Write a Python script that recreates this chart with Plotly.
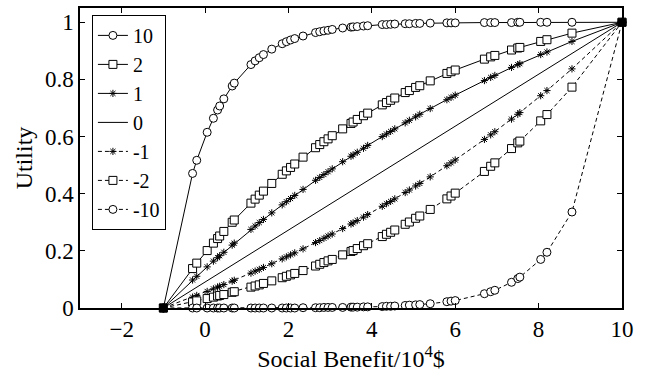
import plotly.graph_objects as go

# Social benefit sample points (10^4 $)
benefit = [
    -1, -0.3, -0.2, 0.05, 0.2, 0.3, 0.35, 0.45, 0.65, 0.7,
    1.1, 1.2, 1.3, 1.4, 1.6, 1.85, 1.95, 2.05, 2.15, 2.35,
    2.65, 2.75, 2.85, 2.95, 3.05, 3.3, 3.5, 3.55, 3.65, 3.8,
    3.9, 4.25, 4.35, 4.45, 4.55, 4.8, 4.9, 5.05, 5.15, 5.4,
    5.8, 5.9, 6.0, 6.7, 6.85, 6.95, 7.35, 7.5, 7.55, 8.05,
    8.2, 8.8, 10,
]

u_p10 = [
    0, 0.471, 0.517, 0.615, 0.664, 0.693, 0.707, 0.732, 0.777, 0.787,
    0.852, 0.865, 0.876, 0.887, 0.906, 0.925, 0.932, 0.938, 0.943, 0.952,
    0.964, 0.967, 0.970, 0.972, 0.975, 0.980, 0.983, 0.984, 0.985, 0.987,
    0.988, 0.992, 0.992, 0.993, 0.994, 0.995, 0.995, 0.996, 0.996, 0.997,
    0.998, 0.998, 0.998, 0.999, 0.999, 0.999, 0.999, 1.0, 1.0, 1.0,
    1.0, 1.0, 1.0,
]
u_p2 = [
    0, 0.138, 0.157, 0.201, 0.227, 0.243, 0.252, 0.268, 0.300, 0.308,
    0.367, 0.381, 0.395, 0.409, 0.436, 0.468, 0.480, 0.492, 0.504, 0.528,
    0.561, 0.572, 0.582, 0.592, 0.603, 0.627, 0.646, 0.651, 0.660, 0.673,
    0.682, 0.711, 0.719, 0.727, 0.735, 0.754, 0.761, 0.772, 0.778, 0.795,
    0.821, 0.827, 0.833, 0.871, 0.879, 0.884, 0.903, 0.910, 0.912, 0.933,
    0.939, 0.962, 1.0,
]
u_p1 = [
    0, 0.098, 0.111, 0.144, 0.164, 0.176, 0.183, 0.195, 0.220, 0.227,
    0.275, 0.287, 0.299, 0.310, 0.333, 0.361, 0.372, 0.383, 0.394, 0.415,
    0.447, 0.457, 0.467, 0.477, 0.487, 0.512, 0.531, 0.536, 0.545, 0.559,
    0.569, 0.600, 0.609, 0.618, 0.627, 0.648, 0.657, 0.669, 0.678, 0.698,
    0.729, 0.737, 0.745, 0.796, 0.807, 0.814, 0.842, 0.852, 0.855, 0.887,
    0.896, 0.933, 1.0,
]
benefit_0 = [-1, 10]
u_0 = [0, 1]
u_m1 = [
    0, 0.038, 0.044, 0.058, 0.067, 0.073, 0.076, 0.082, 0.094, 0.097,
    0.122, 0.129, 0.135, 0.142, 0.155, 0.172, 0.179, 0.186, 0.193, 0.207,
    0.229, 0.236, 0.244, 0.252, 0.259, 0.278, 0.294, 0.298, 0.306, 0.318,
    0.327, 0.356, 0.365, 0.373, 0.382, 0.404, 0.413, 0.427, 0.436, 0.459,
    0.498, 0.508, 0.518, 0.590, 0.606, 0.617, 0.661, 0.678, 0.684, 0.743,
    0.761, 0.837, 1.0,
]
u_m2 = [
    0, 0.021, 0.025, 0.033, 0.038, 0.042, 0.044, 0.047, 0.055, 0.057,
    0.073, 0.077, 0.081, 0.086, 0.095, 0.106, 0.111, 0.116, 0.121, 0.131,
    0.147, 0.153, 0.159, 0.165, 0.170, 0.186, 0.198, 0.201, 0.208, 0.218,
    0.225, 0.250, 0.258, 0.265, 0.273, 0.293, 0.301, 0.314, 0.322, 0.345,
    0.382, 0.392, 0.402, 0.478, 0.496, 0.508, 0.558, 0.578, 0.584, 0.655,
    0.677, 0.773, 1.0,
]
u_m10 = [
    0, 0, 0, 0, 0, 0, 0, 0, 0, 0,
    0, 0, 0, 0, 0, 0, 0, 0, 0, 0.001,
    0.001, 0.001, 0.002, 0.002, 0.002, 0.002, 0.003, 0.003, 0.003, 0.004,
    0.004, 0.005, 0.006, 0.006, 0.007, 0.009, 0.010, 0.011, 0.012, 0.015,
    0.022, 0.024, 0.026, 0.050, 0.057, 0.062, 0.090, 0.103, 0.108, 0.170,
    0.195, 0.336, 1.0,
]
end_x = [-1, 10]
end_u = [0, 1]

FONT = "Liberation Serif, Times New Roman, Times, serif"
fig = go.Figure()

def add(name, xs, ys, symbol, size, dash):
    mode = "lines" if symbol is None else "lines+markers"
    marker = None
    if symbol is not None:
        marker = dict(symbol=symbol, size=size, color="white" if "open" not in symbol else "black",
                      line=dict(color="black", width=1))
    fig.add_trace(go.Scatter(
        x=xs, y=ys, name=name, mode=mode,
        line=dict(color="black", width=1, dash=dash),
        marker=marker, cliponaxis=False,
    ))

add("10", benefit, u_p10, "circle", 8, "solid")
add("2", benefit, u_p2, "square", 8, "solid")
add("1", benefit, u_p1, "asterisk-open", 6, "solid")
add("0", benefit_0, u_0, None, 0, "solid")
add("-1", benefit, u_m1, "asterisk-open", 6, "4px,3px")
add("-2", benefit, u_m2, "square", 8, "4px,3px")
add("-10", benefit, u_m10, "circle", 8, "4px,3px")

fig.add_trace(go.Scatter(
    x=end_x, y=end_u, mode="markers", showlegend=False,
    marker=dict(symbol="square", size=8, color="black"), cliponaxis=False,
))

axis_common = dict(
    showline=True, linecolor="black", linewidth=1.5, mirror="ticks",
    ticks="inside", ticklen=5, tickcolor="black", tickwidth=1,
    showgrid=False, zeroline=False,
    tickfont=dict(family=FONT, size=23, color="black"),
)

fig.update_layout(
    width=649, height=373,
    margin=dict(l=80, r=27, t=6, b=65),
    paper_bgcolor="white", plot_bgcolor="white",
    font=dict(family=FONT, color="black"),
    xaxis=dict(range=[-3, 10], tick0=0, dtick=2,
               title=dict(text="Social Benefit/10<sup>4</sup>$", font=dict(family=FONT, size=24), standoff=4),
               **axis_common),
    yaxis=dict(range=[0, 1.05], tick0=0, dtick=0.2,
               title=dict(text="Utility", font=dict(family=FONT, size=24), standoff=6),
               **axis_common),
    legend=dict(x=0.022, y=0.977, xanchor="left", yanchor="top",
                bgcolor="white", bordercolor="black", borderwidth=1,
                font=dict(family=FONT, size=20, color="black"),
                itemwidth=30, tracegroupgap=0),
)

fig.write_html("out.html")
